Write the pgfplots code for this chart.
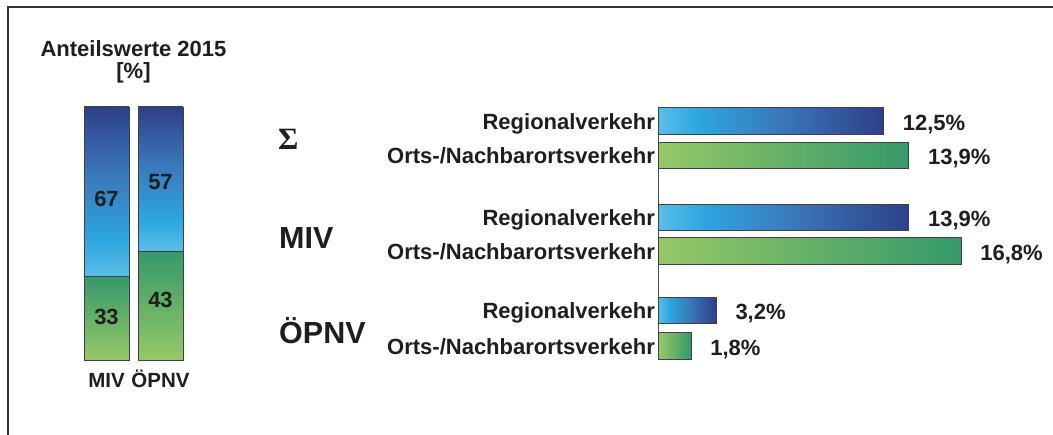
\documentclass[border=0pt]{standalone}
\usepackage{pgfplots}
\pgfplotsset{compat=1.18}
\usepackage{fontspec}
\setmainfont{Liberation Sans}
\newfontfamily\serifb{Liberation Serif}

\definecolor{lb}{HTML}{5BBDE8}
\definecolor{cy}{HTML}{2CA6DF}
\definecolor{mb}{HTML}{3A78B9}
\definecolor{db}{HTML}{2E3F8A}
\definecolor{lg}{HTML}{96C866}
\definecolor{dg}{HTML}{35996A}
\definecolor{txt}{HTML}{1E1E1E}

\pgfdeclarehorizontalshading{blueh}{100bp}{color(0bp)=(lb); color(25bp)=(lb); color(34bp)=(cy); color(52bp)=(mb); color(75bp)=(db); color(100bp)=(db)}
\pgfdeclarehorizontalshading{greenh}{100bp}{color(0bp)=(lg); color(25bp)=(lg); color(75bp)=(dg); color(100bp)=(dg)}
\pgfdeclareverticalshading{bluev}{100bp}{color(0bp)=(lb); color(25bp)=(lb); color(36bp)=(cy); color(55bp)=(mb); color(75bp)=(db); color(100bp)=(db)}
\pgfdeclareverticalshading{greenv}{100bp}{color(0bp)=(lg); color(25bp)=(lg); color(75bp)=(dg); color(100bp)=(dg)}

\newcommand{\lab}{\bfseries\fontsize{22bp}{26bp}\selectfont}

\pgfplotsset{
  leftax/.style={at={(79.5bp,75bp)}, anchor=south west, scale only axis,
    width=108bp, height=253bp, xmin=-0.5, xmax=1.5, ymin=0, ymax=100,
    ybar stacked, bar width=0.833,
    axis line style={draw=none}, ytick=\empty, major tick length=0pt, clip=false},
  barline/.style={draw=black!75, line width=0.8bp, shade},
}

\begin{document}
\begin{tikzpicture}[x=1bp,y=1bp]
\useasboundingbox (0,0) rectangle (1053,435);
\draw[line width=2bp, black!80] (8,0) -- (8,428) -- (1053,428);

% title
\node[anchor=base, text=txt, font=\lab] at (133.5,378.3) {Anteilswerte 2015};
\node[anchor=base, text=txt, font=\lab] at (133.5,356) {[\%]};

% left stacked bars: MIV
\begin{axis}[leftax, xtick=\empty]
\addplot[barline, shading=greenv] coordinates {(0,33)};
\addplot[barline, shading=bluev] coordinates {(0,67)};
\end{axis}
% left stacked bars: OEPNV
\begin{axis}[leftax, xtick={0,1}, xticklabels={MIV,ÖPNV},
  xticklabel style={anchor=base, yshift=-28bp, text=txt, font=\bfseries\fontsize{20.5bp}{24bp}\selectfont}]
\addplot[barline, shading=greenv] coordinates {(1,43)};
\addplot[barline, shading=bluev] coordinates {(1,57)};
\end{axis}

% segment values
\node[text=txt, font=\lab] at (106.5,236) {67};
\node[text=txt, font=\lab] at (106.5,118.3) {33};
\node[text=txt, font=\lab] at (160.5,253.3) {57};
\node[text=txt, font=\lab] at (160.5,135) {43};

% group labels
\node[anchor=base west, inner sep=0pt, text=txt, font=\serifb\bfseries\fontsize{31bp}{34bp}\selectfont] at (278,285) {Σ};
\node[anchor=base west, inner sep=0pt, text=txt, font=\bfseries\fontsize{30.5bp}{34bp}\selectfont] at (279,186.7) {MIV};
\node[anchor=base west, inner sep=0pt, text=txt, font=\bfseries\fontsize{30.5bp}{34bp}\selectfont] at (279,91.7) {ÖPNV};

% right horizontal bars
\begin{axis}[at={(658.5bp,75.5bp)}, anchor=south west, scale only axis,
  width=360bp, height=251.5bp, xmin=0, xmax=20, ymin=108, ymax=359.5,
  y dir=reverse, xbar, bar width=26.5,
  axis x line=none, axis y line*=left,
  y axis line style={draw=black!70, line width=0.8bp},
  ytick={121,155.5,217.5,251,310.5,346},
  yticklabels={Regionalverkehr,Orts-/Nachbarortsverkehr,Regionalverkehr,Orts-/Nachbarortsverkehr,Regionalverkehr,Orts-/Nachbarortsverkehr},
  major tick length=0pt,
  yticklabel style={anchor=base east, yshift=-8.5bp, text=txt, font=\lab},
  point meta=x,
  /pgf/number format/assume math mode=true,
  nodes near coords={\pgfmathprintnumber[fixed,fixed zerofill,precision=1,use comma]{\pgfplotspointmeta}\%},
  every node near coord/.append style={anchor=base west, inner sep=0pt, xshift=19bp, yshift=-9.5bp, text=txt, font=\lab},
  clip=false]
% Sigma
\addplot[bar shift=0pt, barline, shading=blueh] coordinates {(12.5,121)};
\addplot[bar shift=0pt, barline, shading=greenh] coordinates {(13.9,155.5)};
% MIV
\addplot[bar shift=0pt, barline, shading=blueh] coordinates {(13.9,217.5)};
\addplot[bar shift=0pt, barline, shading=greenh] coordinates {(16.8,251)};
% OEPNV
\addplot[bar shift=0pt, barline, shading=blueh] coordinates {(3.2,310.5)};
\addplot[bar shift=0pt, barline, shading=greenh] coordinates {(1.8,346)};
\end{axis}
\end{tikzpicture}
\end{document}
